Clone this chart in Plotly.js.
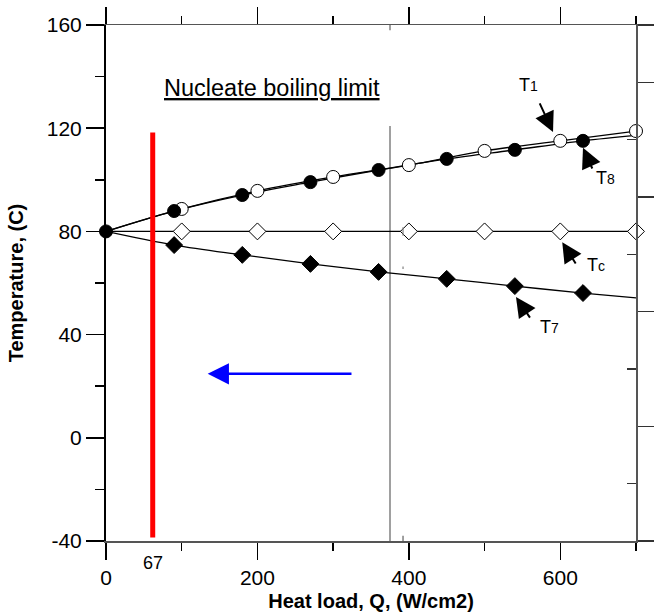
<!DOCTYPE html>
<html><head><meta charset="utf-8">
<script src="https://cdn.plot.ly/plotly-3.0.1.min.js"></script>
<style>html,body{margin:0;padding:0;background:#fff}#chart{width:654px;height:616px}</style>
</head><body><div id="chart"></div>
<script>
// ---- data ----
const q1 = [100, 200, 300, 400, 500, 600, 700];          // T1 (open circles)
const t1 = [88.7, 95.7, 101.1, 105.7, 111.2, 115.1, 118.9];
const q8 = [0, 90, 180, 270, 360, 450, 540, 630];         // T8 (filled circles)
const t8 = [80, 87.9, 94.1, 99.1, 103.8, 108.1, 111.6, 115.1];
const qc = [100, 200, 300, 400, 500, 600, 700];          // Tc (open diamonds)
const tc = [80, 80, 80, 80, 80, 80, 80];
const q7 = [90, 180, 270, 360, 450, 540, 630];            // T7 (filled diamonds)
const t7 = [74.7, 70.9, 67.4, 64.3, 61.6, 58.8, 56.1];
// fitted curves: common start and end values
const startQ = [0], startT = [80];
const endQ = [700];
const t8End = [117.2], t7End = [54.2], tcEnd = [80];
// nucleate boiling limit (red bar)
const limitQ = [61.7, 61.7];
const limitT = [-38.6, 118.3];
const limitLabel = '67';
// gray reference line
const refQ = [375.1, 375.1];
const refT = [120.9, -40];
// axes
const xTicks = [0, 200, 400, 600];
const xMinor = [100, 300, 500, 700];
const yTicks = [-40, 0, 40, 80, 120, 160];
const yMinor = [-20, 20, 60, 100, 140];

const FONT = 'Liberation Sans, Arial, sans-serif';
const lineStyle = {color: '#000', width: 1.3, shape: 'spline', smoothing: 1};

const traces = [
  {x: [refQ[0], refQ[1]], y: refT, mode: 'lines', line: {color: '#808080', width: 1.5}, hoverinfo: 'skip'},
  {x: startQ.concat(q1), y: startT.concat(t1), mode: 'lines', line: lineStyle},
  {x: q8.concat(endQ), y: t8.concat(t8End), mode: 'lines', line: lineStyle},
  {x: startQ.concat(qc, endQ), y: startT.concat(tc, tcEnd), mode: 'lines', line: {color: '#000', width: 1.2}},
  {x: startQ.concat(q7, endQ), y: startT.concat(t7, t7End), mode: 'lines', line: lineStyle},
  {x: limitQ, y: limitT, mode: 'lines', line: {color: '#ff0000', width: 5}},
  {x: q1, y: t1, mode: 'markers', marker: {symbol: 'circle', size: 13, color: '#fff', line: {color: '#000', width: 1}}, cliponaxis: false},
  {x: qc, y: tc, mode: 'markers', marker: {symbol: 'diamond', size: 13, color: '#fff', line: {color: '#000', width: 1}}, cliponaxis: false},
  {x: q7, y: t7, mode: 'markers', marker: {symbol: 'diamond', size: 13, color: '#000', line: {color: '#000', width: 1}}},
  {x: q8, y: t8, mode: 'markers', marker: {symbol: 'circle', size: 13, color: '#000', line: {color: '#000', width: 1}}, cliponaxis: false},
  {x: [null], y: [null], yaxis: 'y2', mode: 'markers', hoverinfo: 'skip'}
];

function arrow(tipX, tipY, tailX, tailY, color, w, size) {
  return {x: tipX, y: tipY, ax: tailX, ay: tailY, xref: 'x', yref: 'y', axref: 'x', ayref: 'y',
    text: '', showarrow: true, arrowhead: 2, arrowwidth: w, arrowsize: size, arrowcolor: color, standoff: 0, startstandoff: 0};
}
function label(x, y, txt, size) {
  return {x: x, y: y, xref: 'x', yref: 'y', text: txt, showarrow: false, font: {family: FONT, size: size || 18, color: '#000'}, xanchor: 'center', yanchor: 'middle'};
}
const sub = s => "<span style='font-size:14px'>" + s + "</span>";

const layout = {
  width: 654, height: 616,
  margin: {l: 106, r: 18, t: 25, b: 75, pad: 0},
  paper_bgcolor: '#fff', plot_bgcolor: '#fff',
  showlegend: false,
  font: {family: FONT, color: '#000'},
  xaxis: {
    range: [0, 700], tickmode: 'array', tickvals: xTicks, ticktext: xTicks.map(String),
    ticks: 'outside', ticklen: 17, tickwidth: 1.5, tickcolor: '#000',
    minor: {tickmode: 'array', tickvals: xMinor, ticks: 'outside', ticklen: 8, tickwidth: 1.5, tickcolor: '#000'},
    showline: true, linecolor: '#555', linewidth: 1.5, mirror: 'ticks',
    showgrid: false, zeroline: false,
    tickfont: {family: FONT, size: 21, color: '#000'},
    title: {text: '<b>Heat load, Q, (W/cm2)</b>', font: {family: FONT, size: 20, color: '#000'}, standoff: 6}
  },
  yaxis: {
    range: [-40, 160], tickmode: 'array', tickvals: yTicks, ticktext: yTicks.map(String),
    ticks: 'outside', ticklen: 18, tickwidth: 1.5, tickcolor: '#000',
    minor: {tickmode: 'array', tickvals: yMinor, ticks: 'outside', ticklen: 9, tickwidth: 1.5, tickcolor: '#000'},
    showline: true, linecolor: '#000', linewidth: 2,
    showgrid: false, zeroline: false,
    tickfont: {family: FONT, size: 21, color: '#000'},
    title: {text: '<b>Temperature, (C)</b>', font: {family: FONT, size: 20, color: '#000'}, standoff: 18}
  },
  yaxis2: {
    overlaying: 'y', side: 'right', range: [0, 9],
    tickmode: 'array', tickvals: [0, 2, 4, 6, 8, 9], ticks: 'outside', ticklen: 18, tickwidth: 1.3, tickcolor: '#333',
    minor: {tickmode: 'array', tickvals: [1, 3, 5, 7], ticks: 'inside', ticklen: 9, tickwidth: 1.3, tickcolor: '#333'},
    showticklabels: false, showline: true, linecolor: '#555', linewidth: 1.5,
    showgrid: false, zeroline: false
  },
  shapes: [
    {type: 'line', xref: 'x', yref: 'y', x0: refQ[0], x1: refQ[0], y0: 160, y1: 158, line: {color: '#808080', width: 1.5}},
    {type: 'line', xref: 'x', yref: 'y', x0: 392.3, x1: 392.3, y0: -40, y1: -38, line: {color: '#808080', width: 1.5}},
    {type: 'line', xref: 'x', yref: 'y', x0: 392.3, x1: 392.3, y0: 78.3, y1: 81.6, line: {color: '#808080', width: 1.2}},
    {type: 'line', xref: 'x', yref: 'y', x0: 392.3, x1: 392.3, y0: 65.4, y1: 66.4, line: {color: '#808080', width: 1.2}}
  ],
  annotations: [
    label(219.7, 135.6, '<u>Nucleate boiling limit</u>', 23.5),
    {x: limitQ[0], y: -0.0426, xref: 'x', yref: 'paper', text: limitLabel, showarrow: false,
     font: {family: FONT, size: 18, color: '#000'}, xanchor: 'center', yanchor: 'middle'},
    label(557.4, 136.7, 'T' + sub('1')),
    label(659.1, 100.7, 'T' + sub('8')),
    label(647.2, 67.0, 'T' + sub('c')),
    label(586.4, 43.0, 'T' + sub('7')),
    arrow(590.4, 118.5, 571.9, 130.2, '#000', 2, 2),
    arrow(630.0, 112.4, 643.2, 103.8, '#000', 2, 2),
    arrow(602.6, 75.8, 621.6, 67.0, '#000', 2, 2),
    arrow(541.5, 54.6, 561.3, 46.0, '#000', 2, 2),
    arrow(134.3, 24.8, 326.2, 24.8, '#0000ff', 2.5, 1.7)
  ]
};

Plotly.newPlot('chart', traces, layout, {staticPlot: true, displayModeBar: false});
</script>
</body></html>
